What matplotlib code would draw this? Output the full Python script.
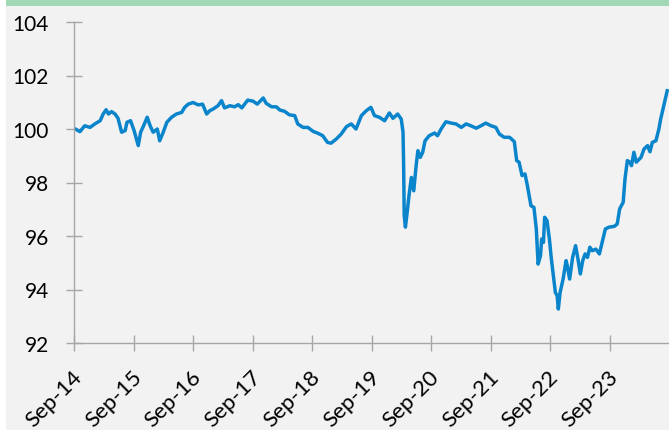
import matplotlib.pyplot as plt
import matplotlib.transforms as mtransforms
from matplotlib.patches import Rectangle

# decimal year of each reading, and index value
years = [2014.66, 2014.77, 2014.85, 2014.94, 2015.02, 2015.11, 2015.16, 2015.21, 2015.25, 2015.30,
         2015.36, 2015.41, 2015.47, 2015.53, 2015.56, 2015.62, 2015.68, 2015.75, 2015.79, 2015.84,
         2015.90, 2015.95, 2016.00, 2016.07, 2016.11, 2016.17, 2016.23, 2016.31, 2016.39, 2016.48,
         2016.53, 2016.59, 2016.67, 2016.76, 2016.83, 2016.90, 2016.95, 2017.01, 2017.09, 2017.15,
         2017.20, 2017.29, 2017.37, 2017.43, 2017.49, 2017.59, 2017.68, 2017.75, 2017.85, 2017.90,
         2017.99, 2018.07, 2018.13, 2018.21, 2018.29, 2018.38, 2018.43, 2018.52, 2018.60, 2018.69,
         2018.77, 2018.85, 2018.93, 2018.99, 2019.08, 2019.16, 2019.25, 2019.33, 2019.41, 2019.50,
         2019.58, 2019.66, 2019.72, 2019.80, 2019.89, 2019.97, 2020.03, 2020.11, 2020.17, 2020.20,
         2020.21, 2020.22, 2020.24, 2020.27, 2020.30, 2020.34, 2020.38, 2020.42, 2020.45, 2020.49,
         2020.53, 2020.57, 2020.64, 2020.73, 2020.78, 2020.84, 2020.92, 2021.01, 2021.09, 2021.18,
         2021.26, 2021.34, 2021.43, 2021.51, 2021.59, 2021.68, 2021.76, 2021.82, 2021.90, 2021.99,
         2022.07, 2022.11, 2022.15, 2022.20, 2022.25, 2022.29, 2022.35, 2022.40, 2022.44, 2022.47,
         2022.51, 2022.53, 2022.56, 2022.58, 2022.62, 2022.66, 2022.69, 2022.72, 2022.76, 2022.79,
         2022.81, 2022.84, 2022.89, 2022.94, 2022.96, 2023.00, 2023.05, 2023.10, 2023.14, 2023.18,
         2023.22, 2023.26, 2023.30, 2023.34, 2023.38, 2023.44, 2023.50, 2023.54, 2023.60, 2023.66,
         2023.75, 2023.80, 2023.84, 2023.90, 2023.93, 2023.97, 2024.01, 2024.04, 2024.08, 2024.12,
         2024.20, 2024.25, 2024.31, 2024.35, 2024.39, 2024.45, 2024.50, 2024.53, 2024.64]
values = [100.04, 99.90, 100.12, 100.06, 100.19, 100.31, 100.56, 100.72, 100.56, 100.65,
          100.56, 100.40, 99.88, 99.94, 100.25, 100.31, 99.94, 99.38, 99.88, 100.12,
          100.44, 100.12, 99.88, 100.00, 99.56, 99.88, 100.25, 100.44, 100.56, 100.62,
          100.81, 100.93, 100.99, 100.90, 100.93, 100.56, 100.68, 100.75, 100.87, 101.06,
          100.79, 100.87, 100.83, 100.91, 100.79, 101.08, 101.04, 100.93, 101.16, 100.96,
          100.83, 100.83, 100.71, 100.66, 100.53, 100.50, 100.19, 100.06, 100.06, 99.91,
          99.84, 99.75, 99.50, 99.47, 99.63, 99.81, 100.09, 100.19, 100.00, 100.50,
          100.68, 100.81, 100.50, 100.44, 100.31, 100.60, 100.40, 100.56, 100.37, 99.88,
          98.63, 96.76, 96.33, 96.89, 97.51, 98.19, 97.69, 98.63, 99.19, 98.94,
          99.13, 99.56, 99.75, 99.85, 99.75, 100.00, 100.27, 100.22, 100.19, 100.06,
          100.19, 100.12, 100.03, 100.12, 100.22, 100.12, 100.06, 99.81, 99.69, 99.69,
          99.53, 98.82, 98.76, 98.26, 98.32, 97.88, 97.13, 97.07, 96.26, 94.95,
          95.26, 95.89, 95.76, 96.70, 96.57, 95.89, 95.20, 94.64, 93.89, 93.77,
          93.27, 93.89, 94.39, 95.08, 94.89, 94.39, 95.20, 95.64, 95.14, 94.58,
          95.08, 95.33, 95.20, 95.58, 95.45, 95.51, 95.33, 95.70, 96.26, 96.33,
          96.36, 96.45, 97.01, 97.26, 98.13, 98.82, 98.76, 98.63, 99.13, 98.76,
          98.94, 99.25, 99.38, 99.15, 99.50, 99.56, 100.00, 100.37, 101.43]

tick_years = [2014.67 + k for k in range(10)]
tick_labels = ["Sep-14", "Sep-15", "Sep-16", "Sep-17", "Sep-18",
               "Sep-19", "Sep-20", "Sep-21", "Sep-22", "Sep-23"]

plt.rcParams['font.family'] = ['Lato', 'DejaVu Sans']

fig = plt.figure(figsize=(6.69, 4.31), dpi=100, facecolor='white')
fig.patches.append(Rectangle((6 / 669, 0), 1, 1 - 7 / 431, transform=fig.transFigure,
                             facecolor='#f2f2f2', edgecolor='none', zorder=-2))
fig.patches.append(Rectangle((6 / 669, 1 - 7 / 431), 1, 7 / 431, transform=fig.transFigure,
                             facecolor='#a0d9b4', edgecolor='none', zorder=-2))

ax = fig.add_axes([74 / 669, 87 / 431, 1 - 74 / 669, 321 / 431])
ax.set_facecolor('none')
ax.plot(years, values, color='#0a85cc', lw=2.5, solid_joinstyle='round')

ax.set_xlim(2014.67, 2024.67)
ax.set_ylim(92, 104)
ax.set_yticks([92, 94, 96, 98, 100, 102, 104])
ax.set_xticks(tick_years)
ax.set_xticklabels(tick_labels, rotation=45, ha='right', va='center', rotation_mode='anchor')

for side in ['top', 'right']:
    ax.spines[side].set_visible(False)
for side in ['left', 'bottom']:
    ax.spines[side].set_color('#a6a6a6')
    ax.spines[side].set_linewidth(1.0)

ax.tick_params(axis='both', direction='inout', length=12, width=1.0, color='#a6a6a6',
               labelcolor='black')
ax.tick_params(axis='y', pad=12, labelsize=15)
ax.tick_params(axis='x', pad=16, labelsize=16)

shift = mtransforms.ScaledTranslation(5 / 100, 0, fig.dpi_scale_trans)
for lab in ax.get_xticklabels():
    lab.set_transform(lab.get_transform() + shift)

fig.savefig('out.png', dpi=100, facecolor=fig.get_facecolor())
